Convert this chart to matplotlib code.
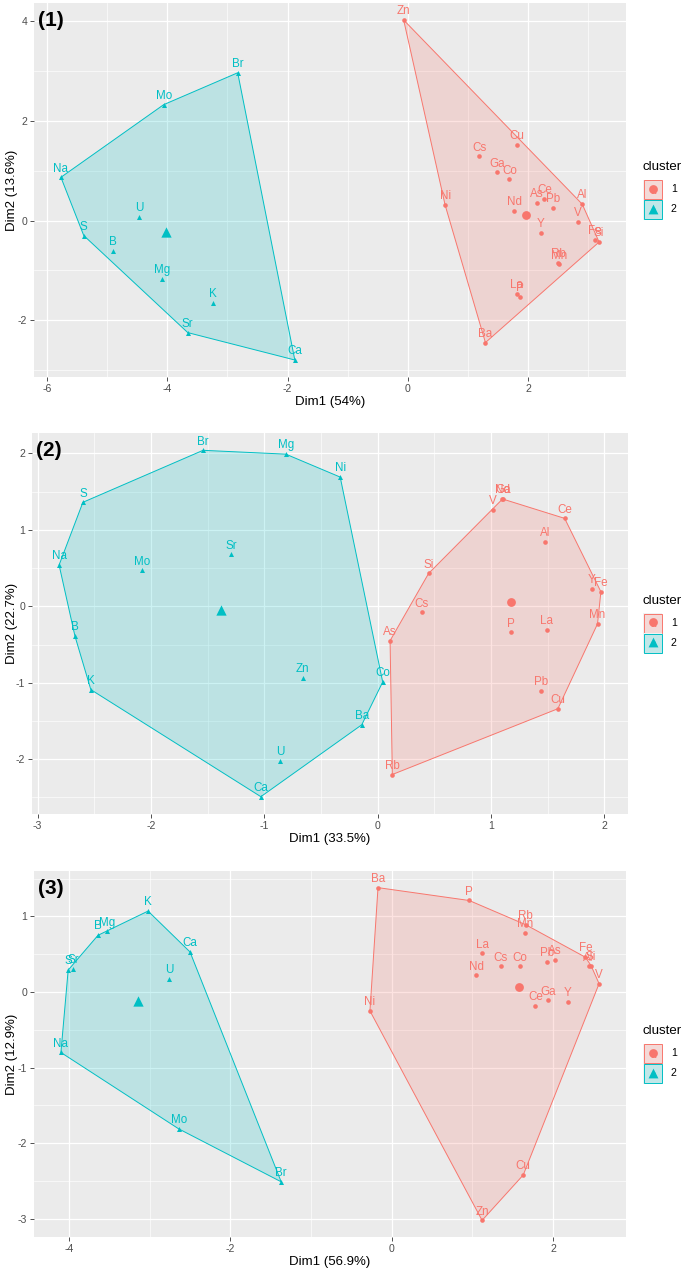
import numpy as np
import matplotlib
matplotlib.use('Agg')
import matplotlib.pyplot as plt
from matplotlib.patches import Polygon, Rectangle
from matplotlib.ticker import MultipleLocator

plt.rcParams['font.family'] = ['Liberation Sans', 'DejaVu Sans']
plt.rcParams['axes.unicode_minus'] = False

W, H = 685, 1284
RED = '#F8766D'
CYAN = '#00BFC4'

# ---- panel (1) ----
p1_c1_names = ['Zn', 'Cu', 'Cs', 'Ga', 'Co', 'Ni', 'Nd', 'As', 'Ce', 'Pb',
               'Y', 'Al', 'V', 'Fe', 'Si', 'Rb', 'Mn', 'La', 'P', 'Ba']
p1_c1_x = [-0.07, 1.81, 1.19, 1.49, 1.69, 0.62, 1.77, 2.14, 2.27, 2.41,
           2.21, 2.90, 2.83, 3.11, 3.18, 2.50, 2.52, 1.81, 1.86, 1.29]
p1_c1_y = [4.03, 1.52, 1.29, 0.97, 0.83, 0.31, 0.19, 0.35, 0.44, 0.26,
           -0.24, 0.33, -0.02, -0.39, -0.43, -0.85, -0.88, -1.47, -1.53, -2.45]
p1_c2_names = ['Br', 'Mo', 'Na', 'U', 'S', 'B', 'Mg', 'K', 'Sr', 'Ca']
p1_c2_x = [-2.83, -4.06, -5.77, -4.47, -5.39, -4.91, -4.09, -3.24, -3.66, -1.88]
p1_c2_y = [2.97, 2.33, 0.87, 0.07, -0.30, -0.61, -1.17, -1.65, -2.25, -2.80]
p1_centers = [(1.97, 0.12), (-4.03, -0.23)]

# ---- panel (2) ----
p2_c1_names = ['Nd', 'Ga', 'V', 'Ce', 'Al', 'Si', 'Y', 'Fe', 'Cs', 'Mn',
               'P', 'La', 'As', 'Pb', 'Cu', 'Rb']
p2_c1_x = [1.10, 1.11, 1.02, 1.65, 1.48, 0.45, 1.89, 1.97, 0.39, 1.94,
           1.18, 1.49, 0.11, 1.44, 1.59, 0.13]
p2_c1_y = [1.40, 1.40, 1.26, 1.15, 0.84, 0.43, 0.23, 0.19, -0.08, -0.23,
           -0.34, -0.31, -0.45, -1.11, -1.34, -2.20]
p2_c2_names = ['Br', 'Mg', 'Ni', 'S', 'Na', 'Mo', 'Sr', 'B', 'K', 'Zn',
               'Co', 'Ba', 'U', 'Ca']
p2_c2_x = [-1.54, -0.81, -0.33, -2.60, -2.81, -2.08, -1.29, -2.67, -2.53, -0.66,
           0.045, -0.14, -0.86, -1.03]
p2_c2_y = [2.04, 1.99, 1.69, 1.36, 0.54, 0.47, 0.68, -0.39, -1.09, -0.94,
           -0.99, -1.55, -2.02, -2.49]
p2_centers = [(1.18, 0.06), (-1.38, -0.05)]

# ---- panel (3) ----
p3_c1_names = ['Ba', 'P', 'Rb', 'Mn', 'La', 'Cs', 'Co', 'Nd', 'Pb', 'As',
               'Fe', 'Al', 'Si', 'V', 'Ce', 'Ga', 'Y', 'Ni', 'Cu', 'Zn']
p3_c1_x = [-0.17, 0.96, 1.66, 1.65, 1.12, 1.35, 1.59, 1.05, 1.92, 2.02,
           2.40, 2.44, 2.47, 2.57, 1.78, 1.94, 2.18, -0.27, 1.63, 1.12]
p3_c1_y = [1.38, 1.21, 0.89, 0.78, 0.51, 0.34, 0.34, 0.22, 0.40, 0.42,
           0.46, 0.34, 0.35, 0.11, -0.18, -0.11, -0.13, -0.25, -2.42, -3.02]
p3_c2_names = ['K', 'B', 'Mg', 'Ca', 'S', 'Sr', 'U', 'Na', 'Mo', 'Br']
p3_c2_x = [-3.02, -3.64, -3.53, -2.50, -4.01, -3.95, -2.76, -4.10, -2.64, -1.37]
p3_c2_y = [1.07, 0.75, 0.80, 0.53, 0.29, 0.31, 0.17, -0.80, -1.81, -2.51]
p3_centers = [(1.58, 0.06), (-3.15, -0.12)]


def convex_hull(xs, ys):
    pts = sorted(set(zip(xs, ys)))

    def cross(o, a, b):
        return (a[0] - o[0]) * (b[1] - o[1]) - (a[1] - o[1]) * (b[0] - o[0])

    lower, upper = [], []
    for p in pts:
        while len(lower) >= 2 and cross(lower[-2], lower[-1], p) <= 0:
            lower.pop()
        lower.append(p)
    for p in reversed(pts):
        while len(upper) >= 2 and cross(upper[-2], upper[-1], p) <= 0:
            upper.pop()
        upper.append(p)
    return lower[:-1] + upper[:-1]


def draw_panel(box, groups, centers, xlab, ylab, xstep, ystep):
    l, t, r, b = box
    ax = fig.add_axes([l / W, 1 - b / H, (r - l) / W, (b - t) / H])
    ax.set_facecolor('#EBEBEB')
    for s in ax.spines.values():
        s.set_visible(False)

    all_x = np.concatenate([g[1] for g in groups])
    all_y = np.concatenate([g[2] for g in groups])
    dx = (all_x.max() - all_x.min()) * 0.05
    dy = (all_y.max() - all_y.min()) * 0.05
    ax.set_xlim(all_x.min() - dx, all_x.max() + dx)
    ax.set_ylim(all_y.min() - dy, all_y.max() + dy)

    ax.xaxis.set_major_locator(MultipleLocator(xstep))
    ax.xaxis.set_minor_locator(MultipleLocator(xstep / 2))
    ax.yaxis.set_major_locator(MultipleLocator(ystep))
    ax.yaxis.set_minor_locator(MultipleLocator(ystep / 2))
    ax.grid(which='major', color='white', lw=0.9)
    ax.grid(which='minor', color='white', lw=0.45)
    ax.set_axisbelow(True)
    ax.tick_params(which='major', length=2.75, width=0.6, color='#333333',
                   labelsize=7.6, labelcolor='#4D4D4D', pad=2)
    ax.tick_params(which='minor', length=0)

    for (names, xs, ys, col, mk), (cx, cy) in zip(groups, centers):
        hull = convex_hull(xs, ys)
        ax.add_patch(Polygon(hull, closed=True, facecolor=col, alpha=0.2,
                             edgecolor='none', zorder=2))
        ax.add_patch(Polygon(hull, closed=True, facecolor='none',
                             edgecolor=col, lw=0.7, zorder=2))
        ax.scatter(xs, ys, s=11 if mk == 'o' else 13, marker=mk, color=col,
                   linewidths=0, zorder=3)
        ax.scatter([cx], [cy], s=40 if mk == 'o' else 55, marker=mk, color=col,
                   linewidths=0, zorder=3)
        for n, x, y in zip(names, xs, ys):
            ax.annotate(n, (x, y), xytext=(0, 2.0), textcoords='offset points',
                        ha='center', va='bottom', fontsize=8.4, color=col,
                        zorder=4)

    ax.set_xlabel(xlab, fontsize=9.5, labelpad=2)
    ax.set_ylabel(ylab, fontsize=9.5)
    # put the y title at a fixed pixel column, as in the reference
    ax.yaxis.set_label_coords((18 - l) / (r - l), 0.5)
    return ax


fig = plt.figure(figsize=(W / 100, H / 100), dpi=100)

panels = [
    ((34, 3, 626, 377),
     [(p1_c1_names, np.array(p1_c1_x), np.array(p1_c1_y), RED, 'o'),
      (p1_c2_names, np.array(p1_c2_x), np.array(p1_c2_y), CYAN, '^')],
     p1_centers, 'Dim1 (54%)', 'Dim2 (13.6%)', 2, 2, '(1)'),
    ((32, 433, 628, 814),
     [(p2_c1_names, np.array(p2_c1_x), np.array(p2_c1_y), RED, 'o'),
      (p2_c2_names, np.array(p2_c2_x), np.array(p2_c2_y), CYAN, '^')],
     p2_centers, 'Dim1 (33.5%)', 'Dim2 (22.7%)', 1, 1, '(2)'),
    ((34, 871, 626, 1237),
     [(p3_c1_names, np.array(p3_c1_x), np.array(p3_c1_y), RED, 'o'),
      (p3_c2_names, np.array(p3_c2_x), np.array(p3_c2_y), CYAN, '^')],
     p3_centers, 'Dim1 (56.9%)', 'Dim2 (12.9%)', 2, 1, '(3)'),
]

for box, groups, centers, xlab, ylab, xs, ys, tag in panels:
    draw_panel(box, groups, centers, xlab, ylab, xs, ys)

# overlay in pixel coordinates for panel tags and legends
ov = fig.add_axes([0, 0, 1, 1])
ov.set_xlim(0, W)
ov.set_ylim(H, 0)
ov.axis('off')
ov.patch.set_alpha(0)

for box, groups, centers, xlab, ylab, xs, ys, tag in panels:
    l, t, r, b = box
    ov.text(l + 4, t + 18, tag, fontsize=15, fontweight='bold',
            ha='left', va='center')
    yc = (t + b) / 2
    ov.text(643, yc - 23, 'cluster', fontsize=9.5, ha='left', va='center')
    for i, (col, mk) in enumerate([(RED, 'o'), (CYAN, '^')]):
        ky = yc - 10.5 + 20 * i
        ov.add_patch(Rectangle((643.5, ky), 19, 20, facecolor='#F2F2F2',
                               edgecolor='none'))
        ov.add_patch(Rectangle((644, ky + 0.5), 18, 19, facecolor=col,
                               alpha=0.2, edgecolor='none'))
        ov.add_patch(Rectangle((644, ky + 0.5), 18, 19, facecolor='none',
                               edgecolor=col, lw=0.7))
        ov.scatter([653], [ky + 9], s=40 if mk == 'o' else 50, marker=mk,
                   color=col, linewidths=0)
        ov.text(653, ky + 11, 'a', fontsize=7, color=col, ha='center',
                va='center')
        ov.text(671, ky + 10, str(i + 1), fontsize=7.6, ha='left', va='center')

fig.savefig('out.png', dpi=100)
